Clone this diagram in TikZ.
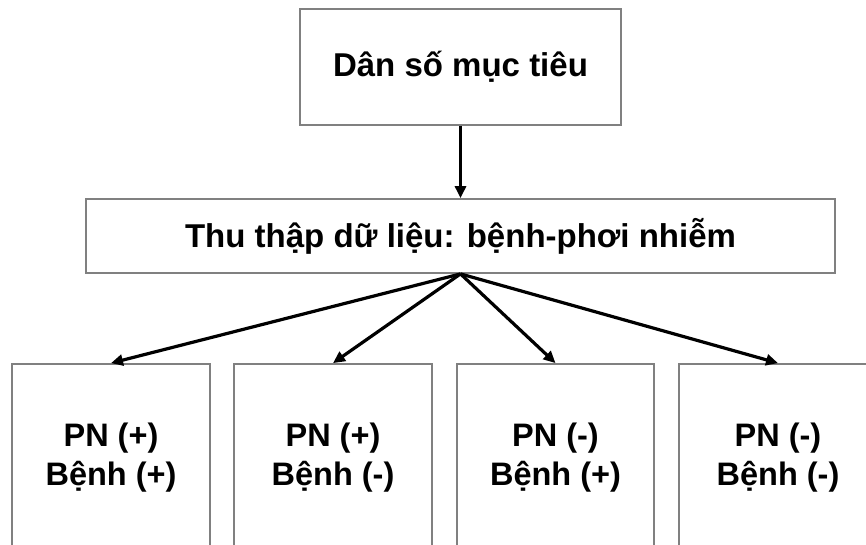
\documentclass[tikz,border=0pt]{standalone}
\usepackage{fontspec}
\setmainfont{Liberation Sans}
\usetikzlibrary{arrows.meta}
\begin{document}
\begin{tikzpicture}[x=1pt,y=-1pt,
  boxstyle/.style={draw=black!50, line width=1.8pt, fill=white, inner sep=0pt, align=center,
    font=\bfseries\fontsize{33}{39}\selectfont},
  lowbox/.style={boxstyle, minimum width=198pt, minimum height=187pt,
    font=\bfseries\fontsize{32.5}{39}\selectfont},
  conn/.style={line width=3.2pt, -{Triangle[length=12pt,width=11pt]}}]
\useasboundingbox (0,0) rectangle (866,544);
\clip (0,0) rectangle (866,544);
\fill[white] (0,0) rectangle (866,544);
\node[boxstyle, minimum width=321pt, minimum height=116pt] (top) at (460.5,67) {Dân số mục tiêu};
\node[boxstyle, minimum width=749pt, minimum height=74pt] (mid) at (460.5,236) {Thu thập dữ liệu: bệnh-phơi nhiễm};
\node[lowbox] (b1) at (111,457.5) {PN (+)\\Bệnh (+)};
\node[lowbox] (b2) at (333,457.5) {PN (+)\\Bệnh (-)};
\node[lowbox, minimum width=197pt] (b3) at (555.5,457.5) {PN (-)\\Bệnh (+)};
\node[lowbox] (b4) at (778,457.5) {PN (-)\\Bệnh (-)};
\draw[conn] (top.south) -- (mid.north);
\draw[conn] (mid.south) -- (b1.north);
\draw[conn] (mid.south) -- (b2.north);
\draw[conn] (mid.south) -- (b3.north);
\draw[conn] (mid.south) -- (b4.north);
\end{tikzpicture}
\end{document}
